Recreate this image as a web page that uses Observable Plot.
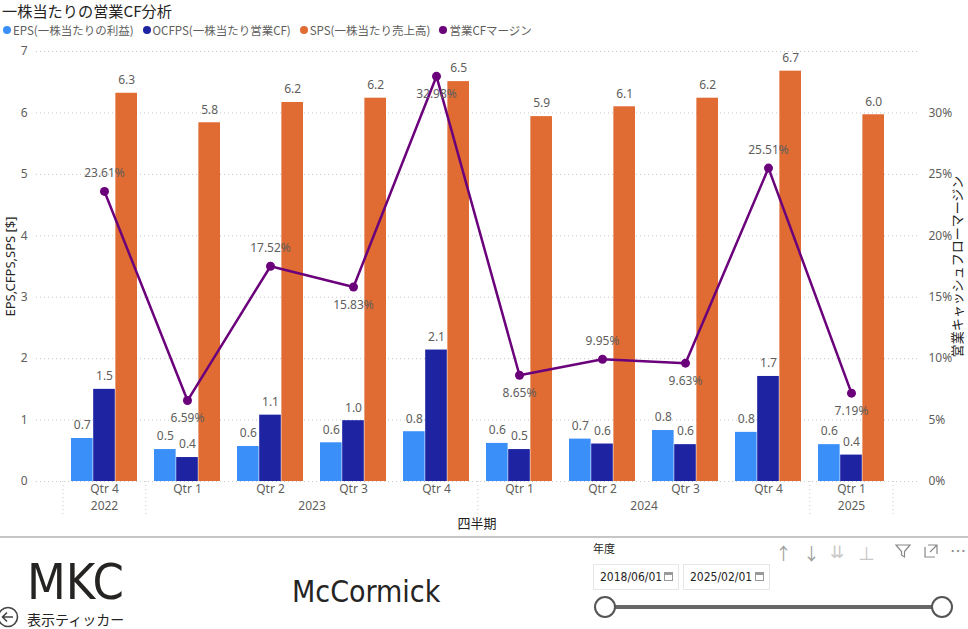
<!DOCTYPE html>
<html><head><meta charset="utf-8">
<script src="https://cdn.jsdelivr.net/npm/d3@7"></script>
<script src="https://cdn.jsdelivr.net/npm/@observablehq/plot@0.6"></script>
<style>
body{margin:0;width:968px;height:629px;overflow:hidden;background:#fff;font-family:"Noto Sans","Noto Sans CJK JP",sans-serif;position:relative}
#hdr{height:40px;position:relative}
#title{position:absolute;left:2px;top:2px;font-size:15.2px;line-height:17px;color:#252423;white-space:nowrap;font-family:"Noto Sans CJK JP","Noto Sans",sans-serif}
#legend{position:absolute;left:3px;top:22px;display:flex;font-size:11.5px;color:#605E5C;white-space:nowrap;font-family:"Noto Sans CJK JP","Noto Sans",sans-serif}
.li{display:flex;align-items:center;margin-right:9px}
.sw{width:8px;height:8px;border-radius:50%;margin-right:2px}
#chart{height:497px}
#chart svg{display:block}
.abs{position:absolute;white-space:nowrap}
#sep{position:absolute;left:0;top:536px;width:968px;height:2px;background:#c8c6c4}
.cond{font-family:"DejaVu Sans Condensed","DejaVu Sans",sans-serif;font-stretch:condensed;color:#252423}
.datebox{position:absolute;top:564px;height:26px;border:1px solid #e6e6e6;box-sizing:border-box;font-size:12px;color:#252423;line-height:24px;padding-left:6px;font-family:"DejaVu Sans Condensed","DejaVu Sans",sans-serif;font-stretch:condensed}
.cal{position:absolute;right:5px;top:7px;width:9px;height:9px;border:1px solid #999;border-top-width:3px;box-sizing:border-box}
.knob{position:absolute;width:22px;height:22px;border:2px solid #555;border-radius:50%;background:#fff;box-sizing:border-box}
.icon{position:absolute;top:540px;font-size:17px;color:#a0a0a0}
</style>
</head><body>
<div id="hdr">
  <div id="title">一株当たりの営業CF分析</div>
  <div id="legend"></div>
</div>
<div id="chart"></div>
<div id="sep"></div>
<div class="abs cond" style="left:27px;top:557px;font-size:50px;line-height:50px">MKC</div>
<div class="abs cond" style="left:292px;top:577px;font-size:30px;line-height:30px">McCormick</div>
<svg class="abs" style="left:-3px;top:606px" width="22" height="22" viewBox="0 0 22 22"><circle cx="11" cy="11" r="9.5" fill="none" stroke="#444" stroke-width="1.6"/><path d="M16 11H6M10 6.5L5.5 11L10 15.5" fill="none" stroke="#444" stroke-width="1.6"/></svg>
<div class="abs" style="left:27px;top:610px;font-size:14px;line-height:18px;color:#252423;font-family:'Noto Sans CJK JP',sans-serif">表示ティッカー</div>
<div class="abs" style="left:593px;top:541px;font-size:11px;line-height:14px;color:#252423;font-family:'Noto Sans CJK JP',sans-serif">年度</div>
<div class="datebox" style="left:593px;width:86px">2018/06/01<span class="cal"></span></div>
<div class="datebox" style="left:683px;width:87px">2025/02/01<span class="cal"></span></div>
<div class="abs" style="left:605px;top:605px;width:337px;height:4px;background:#666"></div>
<div class="knob" style="left:594px;top:596px"></div>
<div class="knob" style="left:931px;top:596px"></div>
<div class="icon" style="left:775px">↑</div>
<div class="icon" style="left:803px">↓</div>
<div class="icon" style="left:830px;color:#c8c8c8">⇊</div>
<div class="icon" style="left:858px;color:#c8c8c8">⊥</div>
<svg class="abs" style="left:894px;top:543px" width="18" height="16"><path d="M2 2H16L10.5 8.5V14L7.5 12V8.5Z" fill="none" stroke="#888" stroke-width="1.2"/></svg>
<svg class="abs" style="left:923px;top:543px" width="16" height="16"><path d="M2 4V14H12M5 2H14V11M14 2L7 9" fill="none" stroke="#888" stroke-width="1.2"/></svg>
<div class="icon" style="left:950px;top:538px;font-size:16px;color:#888">⋯</div>
<script>
// ---- data ----
const quarters = ["Qtr 4","Qtr 1","Qtr 2","Qtr 3","Qtr 4","Qtr 1","Qtr 2","Qtr 3","Qtr 4","Qtr 1"];
const years    = [2022,2023,2023,2023,2023,2024,2024,2024,2024,2025];
const eps      = [0.70,0.52,0.57,0.63,0.81,0.62,0.69,0.83,0.80,0.60];
const ocfps    = [1.50,0.39,1.08,0.99,2.14,0.52,0.61,0.60,1.71,0.43];
const sps      = [6.32,5.84,6.17,6.24,6.51,5.94,6.10,6.24,6.68,5.97];
const cfMargin = [23.61,6.59,17.52,15.83,32.98,8.65,9.95,9.63,25.51,7.19];
const yTicks   = [0,1,2,3,4,5,6,7];
const pctTicks = [0,1,2,3,4,5,6]; // left units; 1 unit = 5%
const seriesNames  = ["EPS(一株当たりの利益)","OCFPS(一株当たり営業CF)","SPS(一株当たり売上高)","営業CFマージン"];
const seriesColors = ["#3A8FF8","#1E23A2","#E06C33","#6B007B"];
const yTitle = "EPS,CFPS,SPS [$]";
const y2Title = "営業キャッシュフローマージン";
const xTitle = "四半期";

// legend
const lg = document.getElementById("legend");
seriesNames.forEach((n,i)=>{
  const d=document.createElement("div");d.className="li";
  d.innerHTML=`<span class="sw" style="background:${seriesColors[i]}"></span>${n}`;
  lg.appendChild(d);
});

// table
const keys = quarters.map((q,i)=>`${years[i]} ${q}`);
const rows = keys.map((k,i)=>{
  const v=cfMargin[i], p=cfMargin[i-1], n=cfMargin[i+1];
  const localMax=(p===undefined||v>=p)&&(n===undefined||v>=n);
  return {key:k, eps:eps[i], ocfps:ocfps[i], sps:sps[i], margin:v, m:v/5, above: localMax && v<30};
});
// year groups
const groups=[];
years.forEach((y,i)=>{ if(!groups.length||groups[groups.length-1].year!==y) groups.push({year:y,start:i,n:0}); groups[groups.length-1].n++; });
const yearLabels = groups.map(g=>({key:keys[g.start+Math.floor((g.n-1)/2)], year:String(g.year), even:g.n%2===0}));
const bounds = groups.map(g=>({key:keys[g.start]}));
const lastKey = [{key:keys[keys.length-1]}];

const xRange=[62,894], pIn=0.2, pOut=0.1;
const step=(xRange[1]-xRange[0])/(keys.length-pIn+2*pOut);
const bw=step*(1-pIn), third=bw/3;
const grid={stroke:"#c8c8c8",strokeDasharray:"1,3",strokeWidth:1};
const lblColor="#605E5C";

const plot = Plot.plot({
  width:968, height:497,
  marginLeft:36, marginRight:51, marginTop:11, marginBottom:56,
  style:{fontFamily:'"Noto Sans","Noto Sans CJK JP",sans-serif',fontSize:"12px",color:lblColor,background:"transparent"},
  x:{type:"band",domain:keys,range:xRange,paddingInner:pIn,paddingOuter:pOut},
  y:{domain:[0,7]},
  marks:[
    Plot.ruleY(yTicks,{y:d=>d,...grid}),
    Plot.ruleX(bounds,{x:"key",y1:0,y2:0,dx:-step/2,insetBottom:-35,...grid}),
    Plot.ruleX(lastKey,{x:"key",y1:0,y2:0,dx:step/2,insetBottom:-35,...grid}),
    Plot.axisY({ticks:yTicks,anchor:"left",tickSize:0,tickPadding:9,label:null,tickFormat:d=>String(d),fontSize:12}),
    Plot.axisY({ticks:pctTicks,anchor:"right",tickSize:0,tickPadding:11,label:null,tickFormat:d=>`${d*5}%`,fontSize:12}),
    Plot.axisX({tickSize:0,tickPadding:3,label:null,tickFormat:k=>k.split(" ").slice(1).join(" "),fontSize:12}),
    Plot.text(yearLabels,{filter:d=>d.even,x:"key",text:"year",frameAnchor:"bottom",lineAnchor:"middle",dy:25,dx:step/2,fontSize:12}),
    Plot.text(yearLabels,{filter:d=>!d.even,x:"key",text:"year",frameAnchor:"bottom",lineAnchor:"middle",dy:25,fontSize:12}),
    Plot.text([yTitle],{frameAnchor:"left",textAnchor:"middle",lineAnchor:"middle",rotate:-90,dx:-26,fontSize:13,fill:"#252423"}),
    Plot.text([y2Title],{frameAnchor:"right",textAnchor:"middle",lineAnchor:"middle",rotate:-90,dx:40,fontSize:13,fill:"#252423"}),
    Plot.text([xTitle],{frameAnchor:"bottom",lineAnchor:"middle",dy:42,fontSize:13,fill:"#252423"}),
    Plot.barY(rows,{x:"key",y:"eps",fill:seriesColors[0],insetRight:2*third}),
    Plot.barY(rows,{x:"key",y:"ocfps",fill:seriesColors[1],insetLeft:third,insetRight:third}),
    Plot.barY(rows,{x:"key",y:"sps",fill:seriesColors[2],insetLeft:2*third}),
    Plot.line(rows,{x:"key",y:"m",stroke:seriesColors[3],strokeWidth:2.5}),
    Plot.dot(rows,{x:"key",y:"m",r:4.5,fill:seriesColors[3]}),
    Plot.text(rows,{x:"key",y:"eps",text:d=>d.eps.toFixed(1),dx:-third,dy:-13,fill:lblColor,fontSize:12,ariaLabel:"bar-label"}),
    Plot.text(rows,{x:"key",y:"ocfps",text:d=>d.ocfps.toFixed(1),dy:-13,fill:lblColor,fontSize:12,ariaLabel:"bar-label"}),
    Plot.text(rows,{x:"key",y:"sps",text:d=>d.sps.toFixed(1),dx:third,dy:-13,fill:lblColor,fontSize:12,ariaLabel:"bar-label"}),
    Plot.text(rows,{filter:d=>d.above,x:"key",y:"m",text:d=>d.margin.toFixed(2)+"%",dy:-18,fill:lblColor,fontSize:12,ariaLabel:"margin-label"}),
    Plot.text(rows,{filter:d=>!d.above,x:"key",y:"m",text:d=>d.margin.toFixed(2)+"%",dy:18,fill:lblColor,fontSize:12,ariaLabel:"margin-label"})
  ]
});
document.getElementById("chart").appendChild(plot);

// label background boxes (sized from rendered text)
const NS="http://www.w3.org/2000/svg";
plot.querySelectorAll('g[aria-label="bar-label"], g[aria-label="margin-label"]').forEach(g=>{
  const bg=document.createElementNS(NS,"g");
  if(g.getAttribute("transform")) bg.setAttribute("transform",g.getAttribute("transform"));
  g.querySelectorAll("text").forEach(t=>{
    const b=t.getBBox();
    const r=document.createElementNS(NS,"rect");
    r.setAttribute("x",b.x-5);r.setAttribute("y",b.y-1);
    r.setAttribute("width",b.width+10);r.setAttribute("height",b.height+2);
    r.setAttribute("rx",3);r.setAttribute("fill","#fff");r.setAttribute("fill-opacity",0.8);
    if(t.getAttribute("transform")) r.setAttribute("transform",t.getAttribute("transform"));
    bg.appendChild(r);
  });
  g.parentNode.insertBefore(bg,g);
});
</script>
</body></html>
